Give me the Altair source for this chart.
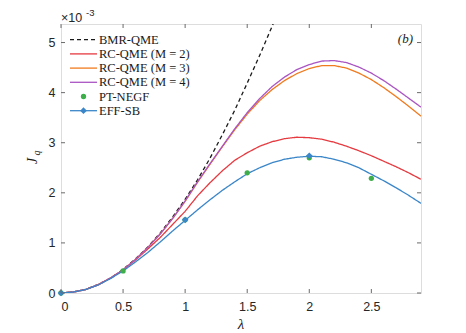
import altair as alt
import pandas as pd

# ---------------- data (J_q in units of 1e-3) ----------------
lam = [0.0, 0.1, 0.2, 0.3, 0.4, 0.5, 0.6, 0.7, 0.8, 0.9,
       1.0, 1.1, 1.2, 1.3, 1.4, 1.5, 1.6, 1.7, 1.8, 1.9,
       2.0, 2.1, 2.2, 2.3, 2.4, 2.5, 2.6, 2.7, 2.8, 2.9]

bmr_lam = [0.0, 0.1, 0.2, 0.3, 0.4, 0.5, 0.6, 0.7, 0.8, 0.9,
           1.0, 1.1, 1.2, 1.3, 1.4, 1.5, 1.6, 1.7, 1.8]
bmr = [0.0, 0.02, 0.075, 0.17, 0.30, 0.47, 0.68, 0.92, 1.20, 1.52,
       1.87, 2.26, 2.69, 3.16, 3.65, 4.19, 4.74, 5.32, 5.94]

rc2 = [0.0, 0.02, 0.07, 0.16, 0.30, 0.46, 0.66, 0.88, 1.11, 1.37,
       1.63, 1.94, 2.20, 2.44, 2.65, 2.80, 2.93, 3.02, 3.08, 3.11,
       3.10, 3.07, 3.01, 2.93, 2.84, 2.74, 2.63, 2.52, 2.40, 2.27]

rc3 = [0.0, 0.02, 0.07, 0.17, 0.30, 0.46, 0.67, 0.91, 1.18, 1.49,
       1.83, 2.21, 2.57, 2.92, 3.26, 3.57, 3.84, 4.06, 4.24, 4.38,
       4.48, 4.54, 4.54, 4.49, 4.39, 4.26, 4.10, 3.92, 3.73, 3.53]

rc4 = [0.0, 0.02, 0.07, 0.17, 0.30, 0.46, 0.67, 0.91, 1.18, 1.49,
       1.84, 2.22, 2.58, 2.93, 3.28, 3.60, 3.88, 4.12, 4.31, 4.46,
       4.56, 4.63, 4.64, 4.60, 4.51, 4.39, 4.24, 4.07, 3.89, 3.71]

effsb = [0.0, 0.02, 0.07, 0.16, 0.29, 0.44, 0.62, 0.81, 1.02, 1.24,
         1.45, 1.66, 1.86, 2.05, 2.22, 2.38, 2.50, 2.60, 2.67, 2.71,
         2.73, 2.72, 2.67, 2.60, 2.50, 2.37, 2.24, 2.10, 1.95, 1.79]

pt_lam = [0.0, 0.5, 1.0, 1.5, 2.0, 2.5]
pt = [0.0, 0.44, 1.46, 2.40, 2.70, 2.29]

eff_lam = [0.0, 1.0, 2.0]
eff_pts = [0.0, 1.46, 2.74]

x_ticks = [0, 0.5, 1, 1.5, 2, 2.5]
y_ticks = [0, 1, 2, 3, 4, 5]

series_names = ["BMR-QME", "RC-QME (M = 2)", "RC-QME (M = 3)", "RC-QME (M = 4)", "PT-NEGF", "EFF-SB"]
colors = ["#1a1a1a", "#E53A40", "#F07A1E", "#A955C2", "#3DAE49", "#3A86C8"]

W, H = 360, 269
XMAX, YMAX = 2.9, 5.37
SERIF = "Liberation Serif"
SANS = "Liberation Sans"
AX = "#6b6b6b"

rows = []
for name, xs_, ys_ in [("BMR-QME", bmr_lam, bmr), ("RC-QME (M = 2)", lam, rc2),
                       ("RC-QME (M = 3)", lam, rc3), ("RC-QME (M = 4)", lam, rc4),
                       ("EFF-SB", lam, effsb)]:
    for a, b in zip(xs_, ys_):
        rows.append({"lam": a, "J": b, "series": name})
lines_df = pd.DataFrame(rows)
pt_df = pd.DataFrame({"lam": pt_lam, "J": pt})
eff_df = pd.DataFrame({"lam": eff_lam, "J": eff_pts})

xs = alt.Scale(domain=[0, XMAX], nice=False, zero=False)
ys = alt.Scale(domain=[0, YMAX], nice=False, zero=False)
cscale = alt.Scale(domain=series_names, range=colors)

X = alt.X("lam:Q", scale=xs,
          axis=alt.Axis(values=x_ticks, format="~g", domain=False, ticks=False, grid=False,
                        labelFont=SANS, labelFontSize=12.5, labelColor="#262626",
                        labelPadding=7, title=None))
Y = alt.Y("J:Q", scale=ys,
          axis=alt.Axis(values=y_ticks, format="d", domain=False, ticks=False, grid=False,
                        labelFont=SANS, labelFontSize=12.5, labelColor="#262626",
                        labelPadding=6, title=None))

base_lines = alt.Chart(lines_df).mark_line(strokeWidth=1.3, clip=True).encode(
    x=X, y=Y,
    color=alt.Color("series:N", scale=cscale, legend=None),
    strokeDash=alt.StrokeDash("series:N",
                              scale=alt.Scale(domain=series_names,
                                              range=[[4, 3], [1, 0], [1, 0], [1, 0], [1, 0], [1, 0]]),
                              legend=None),
    order=alt.Order("lam:Q"),
)

pt_layer = alt.Chart(pt_df).mark_point(filled=True, size=28, opacity=1, color=colors[4]).encode(
    x=alt.X("lam:Q", scale=xs), y=alt.Y("J:Q", scale=ys))

eff_layer = alt.Chart(eff_df).mark_point(filled=True, shape="diamond", size=45, opacity=1,
                                         color=colors[5]).encode(
    x=alt.X("lam:Q", scale=xs), y=alt.Y("J:Q", scale=ys))

# inward ticks (MATLAB style)
xt_df = pd.DataFrame({"t": x_ticks})
yt_df = pd.DataFrame({"t": y_ticks})
tk = 4
xt_bot = alt.Chart(xt_df).mark_rule(color=AX, strokeWidth=1).encode(
    x=alt.X("t:Q", scale=xs), y=alt.value(H), y2=alt.value(H - tk))
xt_top = alt.Chart(xt_df).mark_rule(color=AX, strokeWidth=1).encode(
    x=alt.X("t:Q", scale=xs), y=alt.value(0), y2=alt.value(tk))
yt_left = alt.Chart(yt_df).mark_rule(color=AX, strokeWidth=1).encode(
    y=alt.Y("t:Q", scale=ys), x=alt.value(0), x2=alt.value(tk))
yt_right = alt.Chart(yt_df).mark_rule(color=AX, strokeWidth=1).encode(
    y=alt.Y("t:Q", scale=ys), x=alt.value(W), x2=alt.value(W - tk))

# legend (manual, MATLAB-like)
leg_layers = []
leg_y0, leg_dy = 15.7, 14.2
lx1, lx2, ltx = 9, 36, 38
for i, (name, col) in enumerate(zip(series_names, colors)):
    yy = leg_y0 + i * leg_dy
    one = pd.DataFrame({"label": [name]})
    if name == "BMR-QME":
        leg_layers.append(alt.Chart(one).mark_rule(color=col, strokeWidth=1.3, strokeDash=[4, 3]).encode(
            x=alt.value(lx1), x2=alt.value(lx2), y=alt.value(yy)))
    elif name == "PT-NEGF":
        leg_layers.append(alt.Chart(one).mark_point(filled=True, size=28, opacity=1, color=col).encode(
            x=alt.value((lx1 + lx2) / 2), y=alt.value(yy)))
    elif name == "EFF-SB":
        leg_layers.append(alt.Chart(one).mark_rule(color=col, strokeWidth=1.3).encode(
            x=alt.value(lx1), x2=alt.value(lx2), y=alt.value(yy)))
        leg_layers.append(alt.Chart(one).mark_point(filled=True, shape="diamond", size=45, opacity=1,
                                                    color=col).encode(
            x=alt.value((lx1 + lx2) / 2), y=alt.value(yy)))
    else:
        leg_layers.append(alt.Chart(one).mark_rule(color=col, strokeWidth=1.3).encode(
            x=alt.value(lx1), x2=alt.value(lx2), y=alt.value(yy)))
    leg_layers.append(alt.Chart(one).mark_text(align="left", baseline="middle", font=SERIF,
                                               fontSize=12.5, color="#1a1a1a").encode(
        text="label:N", x=alt.value(ltx), y=alt.value(yy)))

# annotations
def txt(s, x, y, size=12.5, font=SERIF, style="normal", align="center", angle=0, color="#1a1a1a"):
    d = pd.DataFrame({"s": [s]})
    return alt.Chart(d).mark_text(align=align, baseline="middle", font=font, fontSize=size,
                                  fontStyle=style, angle=angle, color=color).encode(
        text="s:N", x=alt.value(x), y=alt.value(y))

ann = [
    txt("×10", 0, -6.5, size=12.5, font=SANS, align="left", color="#262626"),
    txt("-3", 25, -11, size=9.5, font=SANS, align="left", color="#262626"),
    txt("(b)", 352, 15, size=13, font=SERIF, style="italic", align="right"),
    txt("λ", W / 2, 31 + H, size=15, font=SERIF, style="italic"),
    txt("J", -28, 137, size=14, font=SERIF, style="italic", angle=270),
    txt("q", -24, 129, size=10, font=SERIF, style="italic", angle=270),
]

chart = alt.layer(
    base_lines, pt_layer, eff_layer,
    xt_bot, xt_top, yt_left, yt_right,
    *leg_layers, *ann
).properties(
    width=W, height=H,
    autosize=alt.AutoSizeParams(type="none"),
    padding={"left": 53, "top": 16, "right": 30, "bottom": 40},
).configure_view(
    stroke=AX, strokeWidth=1
).configure(background="white")

chart.save("out.html", embed_options={"renderer": "svg", "actions": False})
